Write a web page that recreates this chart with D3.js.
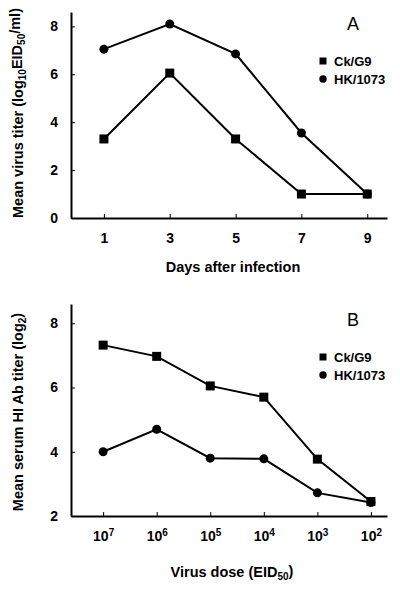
<!DOCTYPE html>
<html><head><meta charset="utf-8">
<script src="https://cdn.jsdelivr.net/npm/d3@7"></script>
<style>
body{margin:0;background:#fff;}
text{font-family:"Liberation Sans",Arial,sans-serif;font-weight:bold;fill:#000;}
</style></head>
<body>
<svg id="c" width="400" height="592"></svg>
<script>
// Panel A data
const daysA = [1, 3, 5, 7, 9];
const ckA = [3.3, 6.05, 3.3, 1.0, 1.0];
const hkA = [7.05, 8.1, 6.85, 3.55, 1.0];
const yTicksA = [0, 2, 4, 6, 8];
// Panel B data
const dosesB = [7, 6, 5, 4, 3, 2]; // log10 EID50
const ckB = [7.32, 6.97, 6.05, 5.7, 3.77, 2.45];
const hkB = [4.0, 4.7, 3.8, 3.78, 2.72, 2.42];
const yTicksB = [2, 4, 6, 8];
const seriesNames = ["Ck/G9", "HK/1073"];

const svg = d3.select("#c");

function panel(opts){
  const g = svg.append("g");
  const x = opts.x, y = opts.y;
  const xa = d3.axisBottom(x).tickValues(opts.xTicks).tickSizeInner(-4).tickSizeOuter(0).tickPadding(15).tickFormat(d3.format("d"));
  const ya = d3.axisLeft(y).tickValues(opts.yTicks).tickSizeInner(-4).tickSizeOuter(0).tickPadding(13).tickFormat(d3.format("d"));
  const gx = g.append("g").attr("transform", `translate(0,${y.range()[0]})`).call(xa);
  const gy = g.append("g").attr("transform", `translate(${x.range()[0]},0)`).call(ya);
  [gx, gy].forEach(a => {
    a.select(".domain").attr("stroke", "#000").attr("stroke-width", 2);
    a.selectAll(".tick line").attr("stroke", "#000").attr("stroke-width", 1);
    a.selectAll(".tick text").style("font-size", "14px").style("font-family", "Liberation Sans, Arial, sans-serif").style("font-weight", "bold").attr("fill", "#000");
  });
  if (opts.sup) {
    gx.selectAll(".tick text").each(function(d){
      const t = d3.select(this); t.text(null);
      t.append("tspan").text("10");
      t.append("tspan").attr("dy", "-0.45em").style("font-size", "10px").text(d);
    });
  }
  const line = d3.line().x(d => x(d[0])).y(d => y(d[1]));
  const s1 = opts.xs.map((v, i) => [v, opts.s1[i]]);
  const s2 = opts.xs.map((v, i) => [v, opts.s2[i]]);
  [s1, s2].forEach(s => g.append("path").datum(s).attr("d", line).attr("fill", "none").attr("stroke", "#000").attr("stroke-width", 2));
  g.selectAll(".sq").data(s1).join("rect").attr("x", d => x(d[0]) - 4.5).attr("y", d => y(d[1]) - 4.5).attr("width", 9).attr("height", 9).attr("fill", "#000");
  g.selectAll(".ci").data(s2).join("circle").attr("cx", d => x(d[0])).attr("cy", d => y(d[1])).attr("r", 4.5).attr("fill", "#000");
  g.append("text").attr("x", 353).attr("y", opts.letterY).attr("text-anchor", "middle").style("font-size", "18px").style("font-weight", "normal").text(opts.letter);
  const lg = g.append("g").attr("transform", `translate(323,${opts.legY})`);
  lg.append("rect").attr("x", -3.5).attr("y", -3.5).attr("width", 7).attr("height", 7).attr("fill", "#000");
  lg.append("circle").attr("cx", 0).attr("cy", 18).attr("r", 3.7).attr("fill", "#000");
  lg.selectAll("text.l").data(seriesNames).join("text").attr("x", 11).attr("y", (d, i) => i * 18 + 4.5).style("font-size", "13px").text(d => d);
  return g;
}

// Panel A
const xA = d3.scaleLinear().domain([0, 9.6]).range([71, 387]);
const yA = d3.scaleLinear().domain([0, 8.6]).range([218, 12]);
const gA = panel({x: xA, y: yA, xTicks: daysA, yTicks: yTicksA, xs: daysA, s1: ckA, s2: hkA, letter: "A", letterY: 30, legY: 61});
const tA = gA.append("text").attr("transform", "translate(23,113) rotate(-90)").attr("text-anchor", "middle").style("font-size", "14.5px");
tA.append("tspan").text("Mean virus titer (log");
tA.append("tspan").attr("dy", "0.3em").style("font-size", "10px").text("10");
tA.append("tspan").attr("dy", "-0.3em").text("EID");
tA.append("tspan").attr("dy", "0.3em").style("font-size", "10px").text("50");
tA.append("tspan").attr("dy", "-0.3em").text("/ml)");
gA.append("text").attr("x", 233).attr("y", 272).attr("text-anchor", "middle").style("font-size", "14.5px").text("Days after infection");

// Panel B
const xB = d3.scaleLinear().domain([7.6, 1.7]).range([71, 387]);
const yB = d3.scaleLinear().domain([2, 8.6]).range([516, 304]);
const gB = panel({x: xB, y: yB, xTicks: dosesB, yTicks: yTicksB, xs: dosesB, s1: ckB, s2: hkB, letter: "B", letterY: 326, legY: 357, sup: true});
const tB = gB.append("text").attr("transform", "translate(23,412) rotate(-90)").attr("text-anchor", "middle").style("font-size", "14.5px");
tB.append("tspan").text("Mean serum HI Ab titer (log");
tB.append("tspan").attr("dy", "0.3em").style("font-size", "10px").text("2");
tB.append("tspan").attr("dy", "-0.3em").text(")");
const xtB = gB.append("text").attr("x", 232).attr("y", 577).attr("text-anchor", "middle").style("font-size", "14.5px");
xtB.append("tspan").text("Virus dose (EID");
xtB.append("tspan").attr("dy", "0.3em").style("font-size", "10px").text("50");
xtB.append("tspan").attr("dy", "-0.3em").text(")");
</script>
</body></html>
